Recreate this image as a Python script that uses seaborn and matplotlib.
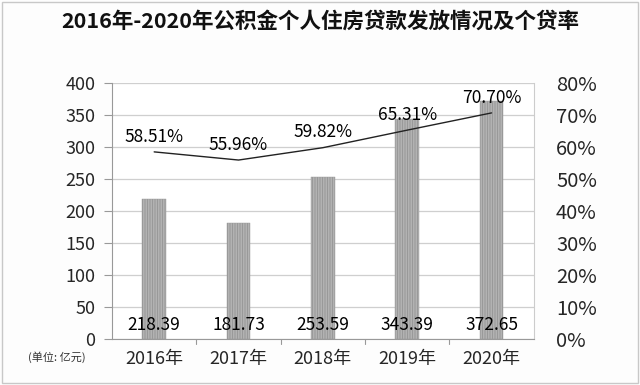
import matplotlib
matplotlib.use("Agg")
import matplotlib.pyplot as plt
import seaborn as sns
import pandas as pd
import numpy as np

years = ["2016年", "2017年", "2018年", "2019年", "2020年"]
loans = [218.39, 181.73, 253.59, 343.39, 372.65]
rates = [58.51, 55.96, 59.82, 65.31, 70.70]
left_ticks = [0, 50, 100, 150, 200, 250, 300, 350, 400]
right_ticks = [0, 10, 20, 30, 40, 50, 60, 70, 80]

sns.set_theme(style="white")
plt.rcParams['font.family'] = ['Noto Sans CJK SC', 'DejaVu Sans']
plt.rcParams['hatch.color'] = '#7a7a7a'
plt.rcParams['hatch.linewidth'] = 1.0

df = pd.DataFrame({"year": years, "loan": loans, "rate": rates})

fig = plt.figure(figsize=(6.4, 3.85), dpi=100)
fig.patch.set_facecolor('#fdfdfd')
ax = fig.add_axes([0.175, 0.1195, 0.659, 0.6645])
ax.set_facecolor('white')

sns.barplot(data=df, x="year", y="loan", ax=ax, width=0.28,
            color='#f4f4f4', edgecolor='#999999', linewidth=0.3)
for p in ax.patches:
    p.set_hatch('|' * 10)

ax.set_ylim(0, 400)
ax.set_xlim(-0.5, 4.5)
ax.set_yticks(left_ticks)
ax.set_yticklabels([str(t) for t in left_ticks], fontsize=13)
ax.yaxis.grid(True, color='#cfcfcf', linewidth=0.9)
ax.set_axisbelow(True)
ax.set_xlabel("")
ax.set_ylabel("")
ax.tick_params(axis='x', labelsize=13, length=0, pad=8)
ax.tick_params(axis='y', length=6, width=0.8, color='#999999', pad=6, left=True)
for b in [0.5, 1.5, 2.5, 3.5]:
    ax.plot([b, b], [0, -8], color='#999999', lw=0.8, clip_on=False)
ax.spines['top'].set_visible(False)
ax.spines['right'].set_color('#cccccc')
ax.spines['left'].set_color('#999999')
ax.spines['bottom'].set_color('#999999')
for s in ['left', 'bottom', 'right']:
    ax.spines[s].set_linewidth(0.8)

for i, v in enumerate(loans):
    ax.text(i, 22, f"{v:.2f}", ha='center', va='center', fontsize=12.5, color='black')

ax2 = ax.twinx()
sns.lineplot(x=list(range(len(years))), y=rates, ax=ax2, color='#222222', linewidth=1.0)
ax2.set_ylim(0, 80)
ax2.set_yticks(right_ticks)
ax2.set_yticklabels([f"{t}%" for t in right_ticks], fontsize=14.5)
ax2.tick_params(axis='y', length=0, pad=16)
ax2.set_ylabel("")
for s in ['top', 'left', 'bottom', 'right']:
    ax2.spines[s].set_visible(False)
for i, r in enumerate(rates):
    ax2.text(i, r + 4.8, f"{r:.2f}%", ha='center', va='center', fontsize=12.5, color='black')

fig.text(0.5, 0.945, "2016年-2020年公积金个人住房贷款发放情况及个贷率",
         ha='center', va='center', fontsize=15.5, fontweight='bold', color='#111111')
fig.text(0.088, 0.072, "(单位: 亿元)", ha='center', va='center', fontsize=8, color='#333333')

border = plt.Rectangle((0.003, 0.005), 0.994, 0.99, transform=fig.transFigure,
                       fill=False, edgecolor='#c8c8c8', linewidth=1.0)
fig.add_artist(border)

fig.savefig("out.png", dpi=100)
